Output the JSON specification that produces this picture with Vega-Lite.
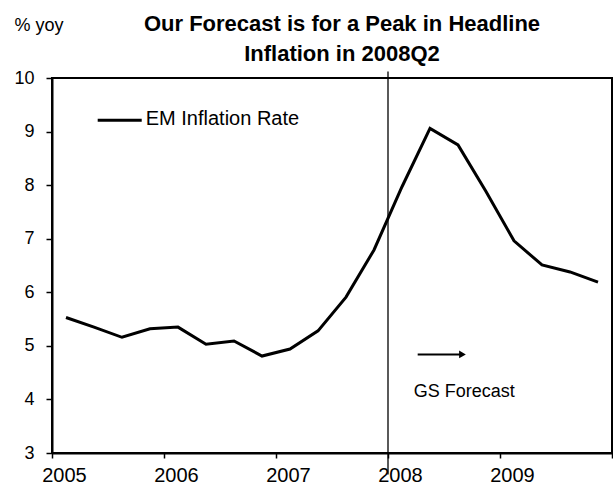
{
  "$schema": "https://vega.github.io/schema/vega-lite/v6.json",
  "width": 560,
  "height": 375,
  "autosize": {"type": "none"},
  "padding": {"left": 52, "top": 78, "right": 1, "bottom": 32},
  "background": "white",
  "config": {
    "font": "Liberation Sans",
    "view": {"stroke": "black", "strokeWidth": 2},
    "axis": {"grid": false, "domainColor": "black", "domainWidth": 2, "tickColor": "black", "tickWidth": 1.5, "labelColor": "black", "labelFont": "Liberation Sans"}
  },
  "title": {
    "text": ["Our Forecast is for a Peak in Headline", "Inflation in 2008Q2"],
    "fontSize": 22,
    "fontWeight": "bold",
    "font": "Liberation Sans",
    "color": "black",
    "lineHeight": 30,
    "anchor": "middle",
    "baseline": "bottom",
    "offset": 13,
    "dx": 10,
    "dy": 85
  },
  "datasets": {
    "series": [
      {"quarter": "2005Q1", "t": 2005.125, "value": 5.53},
      {"quarter": "2005Q2", "t": 2005.375, "value": 5.35},
      {"quarter": "2005Q3", "t": 2005.625, "value": 5.16},
      {"quarter": "2005Q4", "t": 2005.875, "value": 5.32},
      {"quarter": "2006Q1", "t": 2006.125, "value": 5.35},
      {"quarter": "2006Q2", "t": 2006.375, "value": 5.03},
      {"quarter": "2006Q3", "t": 2006.625, "value": 5.09},
      {"quarter": "2006Q4", "t": 2006.875, "value": 4.81},
      {"quarter": "2007Q1", "t": 2007.125, "value": 4.94},
      {"quarter": "2007Q2", "t": 2007.375, "value": 5.28},
      {"quarter": "2007Q3", "t": 2007.625, "value": 5.91},
      {"quarter": "2007Q4", "t": 2007.875, "value": 6.79},
      {"quarter": "2008Q1", "t": 2008.125, "value": 7.97},
      {"quarter": "2008Q2", "t": 2008.375, "value": 9.06},
      {"quarter": "2008Q3", "t": 2008.625, "value": 8.75},
      {"quarter": "2008Q4", "t": 2008.875, "value": 7.88},
      {"quarter": "2009Q1", "t": 2009.125, "value": 6.96},
      {"quarter": "2009Q2", "t": 2009.375, "value": 6.51},
      {"quarter": "2009Q3", "t": 2009.625, "value": 6.38},
      {"quarter": "2009Q4", "t": 2009.875, "value": 6.19}
    ],
    "one": [{}]
  },
  "layer": [
    {
      "data": {"name": "series"},
      "mark": {"type": "line", "color": "black", "strokeWidth": 3, "strokeJoin": "miter"},
      "encoding": {
        "x": {
          "field": "t", "type": "quantitative",
          "scale": {"domain": [2005, 2010], "nice": false, "zero": false},
          "axis": {
            "title": null,
            "values": [2005, 2006, 2007, 2008, 2009, 2010],
            "format": "d",
            "labelExpr": "datum.value == 2010 ? '' : datum.label",
            "labelOffset": 12,
            "labelFontSize": 20,
            "labelPadding": 7,
            "tickSize": 5,
            "labelOverlap": false,
            "labelFlush": false
          }
        },
        "y": {
          "field": "value", "type": "quantitative",
          "scale": {"domain": [3, 10], "nice": false, "zero": false},
          "axis": {
            "values": [3, 4, 5, 6, 7, 8, 9, 10],
            "format": "d",
            "title": "% yoy",
            "titleAngle": 0,
            "titleAlign": "left",
            "titleBaseline": "alphabetic",
            "titleX": -38,
            "titleY": -48,
            "titleFontSize": 18,
            "titleFontWeight": "normal",
            "titleColor": "black",
            "titleFont": "Liberation Sans",
            "labelFontSize": 18,
            "labelPadding": 12,
            "tickSize": 6
          }
        }
      }
    },
    {
      "data": {"name": "one"},
      "mark": {"type": "rule", "color": "black", "strokeWidth": 1.3},
      "encoding": {
        "x": {"datum": 2008, "type": "quantitative"},
        "y": {"datum": 10.12, "type": "quantitative"},
        "y2": {"datum": 2.6}
      }
    },
    {
      "data": {"name": "one"},
      "mark": {"type": "rule", "color": "black", "strokeWidth": 3},
      "encoding": {
        "x": {"datum": 2005.408, "type": "quantitative"},
        "x2": {"datum": 2005.801},
        "y": {"datum": 9.21, "type": "quantitative"}
      }
    },
    {
      "data": {"name": "one"},
      "mark": {"type": "text", "text": "EM Inflation Rate", "align": "left", "baseline": "alphabetic", "fontSize": 20, "color": "black"},
      "encoding": {
        "x": {"datum": 2005.837, "type": "quantitative"},
        "y": {"datum": 9.116, "type": "quantitative"}
      }
    },
    {
      "data": {"name": "one"},
      "mark": {"type": "rule", "color": "black", "strokeWidth": 2},
      "encoding": {
        "x": {"datum": 2008.265, "type": "quantitative"},
        "x2": {"datum": 2008.66},
        "y": {"datum": 4.84, "type": "quantitative"}
      }
    },
    {
      "data": {"name": "one"},
      "mark": {"type": "point", "shape": "triangle-right", "filled": true, "color": "black", "size": 60, "opacity": 1},
      "encoding": {
        "x": {"datum": 2008.665, "type": "quantitative"},
        "y": {"datum": 4.84, "type": "quantitative"}
      }
    },
    {
      "data": {"name": "one"},
      "mark": {"type": "text", "text": "GS Forecast", "align": "left", "baseline": "alphabetic", "fontSize": 18, "color": "black"},
      "encoding": {
        "x": {"datum": 2008.23, "type": "quantitative"},
        "y": {"datum": 4.04, "type": "quantitative"}
      }
    }
  ]
}
